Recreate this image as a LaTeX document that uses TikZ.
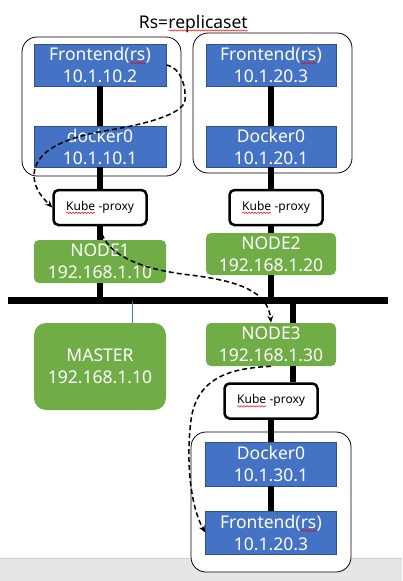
\documentclass[tikz,border=0pt]{standalone}
\usepackage{fontspec}
\setmainfont{Noto Sans}
\usetikzlibrary{arrows.meta,decorations.pathmorphing}
\definecolor{podblue}{HTML}{4472C4}
\definecolor{podedge}{HTML}{2F528F}
\definecolor{hostgreen}{HTML}{70AD47}
\definecolor{bargray}{HTML}{E6E6E6}
\newcommand{\wavy}[1]{\tikz[baseline=(w.base),x=1pt,y=1pt]{\node[inner sep=0pt,outer sep=0pt,minimum size=0pt] (w) {#1};
  \draw[red,line width=0.5pt,sharp corners,decorate,decoration={snake,amplitude=0.7pt,segment length=3pt}]
    ([yshift=-2.5pt]w.base west) -- ([yshift=-2.5pt]w.base east);}}

\begin{document}
\begin{tikzpicture}[x=1pt,y=-1pt,
  podbox/.style={rectangle,draw=podedge,line width=0.7pt,fill=podblue,text=white,inner sep=0pt,
    minimum width=132pt,minimum height=42pt,align=center,font=\fontsize{17.5}{22}\selectfont},
  hostbox/.style={podbox,draw=none,fill=hostgreen,rounded corners=5pt},
  proxybox/.style={rectangle,draw,line width=2.5pt,rounded corners=5pt,fill=white,inner sep=0pt,
    minimum width=93pt,minimum height=35pt,font=\fontsize{12}{14}\selectfont},
  groupbox/.style={rectangle,draw,line width=0.8pt,rounded corners=15pt,fill=white,inner sep=0pt},
  wire/.style={line width=6pt},
  flow/.style={line width=1.5pt,dash pattern=on 5pt off 3pt,-{Stealth[length=7pt,width=6pt]}}]
\useasboundingbox (0,0) rectangle (402,581);
\fill[bargray] (0,558) rectangle (402,581);
\draw[black!20] (0,558) -- (402,558);
% pod groups
\node at (101.5,106.5) [groupbox,minimum width=159pt,minimum height=139pt] (g1) {};
\node at (272.5,103) [groupbox,minimum width=159pt,minimum height=140pt] (g2) {};
\node at (271,502) [groupbox,minimum width=160pt,minimum height=140pt] (g3) {};
\node at (193.5,28) [anchor=base,font=\fontsize{17.5}{22}\selectfont] (title) {Rs=\wavy{replicaset}};
% node 1
\node at (100,65) [podbox] (fe1) {Frontend(\wavy{rs})\\10.1.10.2};
\node at (100,146.5) [podbox,minimum height=41pt] (dk1) {docker0\\10.1.10.1};
\node at (100,207.5) [proxybox] (kp1) {\wavy{Kube} -proxy};
\node at (100,261.5) [hostbox,minimum height=43pt] (n1) {NODE1\\192.168.1.10};
% node 2
\node at (271,65) [podbox,minimum width=130pt] (fe2) {Frontend(\wavy{rs})\\10.1.20.3};
\node at (271,146.5) [podbox,minimum width=130pt,minimum height=41pt] (dk2) {Docker0\\10.1.20.1};
\node at (276,207.5) [proxybox] (kp2) {\wavy{Kube} -proxy};
\node at (271,254) [hostbox,minimum width=130pt] (n2) {NODE2\\192.168.1.20};
% master, node 3
\node at (100,366.5) [hostbox,minimum height=87pt,rounded corners=12pt] (master) {MASTER\\192.168.1.10};
\node at (271,344.5) [hostbox,minimum width=130pt,minimum height=43pt] (n3) {NODE3\\192.168.1.30};
\node at (271,401) [proxybox] (kp3) {\wavy{Kube} -proxy};
\node at (271,464) [podbox,minimum width=131pt,minimum height=44pt] (dk3) {Docker0\\10.1.30.1};
\node at (271,532.5) [podbox,minimum width=131pt,minimum height=43pt] (fe3) {Frontend(\wavy{rs})\\10.1.20.3};
% bus
\coordinate (busL) at (8,300.5);
\coordinate (busR) at (388,300.5);
\coordinate (tap3) at (293,300.5);
\coordinate (tapm) at (132,300.5);
\draw[wire] (fe1) -- (dk1);
\draw[wire] (dk1) -- (kp1);
\draw[wire] (kp1) -- (n1);
\draw[wire] (n1.south) -- (n1.south |- busL);
\draw[wire] (fe2) -- (dk2);
\draw[wire] (dk2.south) -- (dk2.south |- kp2.north);
\draw[wire] (kp2.south -| n2.north) -- (n2.north);
\draw[wire] (n2.south) -- (n2.south |- busL);
\draw[wire] (tap3) -- (tap3 |- n3.north);
\draw[wire] (n3.south -| tap3) -- (kp3.north -| tap3);
\draw[wire] (kp3) -- (dk3);
\draw[wire] (dk3) -- (fe3);
\draw[wire,line width=6.5pt] (busL) -- (busR);
\draw[podblue,line width=0.8pt] (tapm) -- (tapm |- master.north);
% traffic
\draw[flow] (fe1.east) .. controls (182,68) and (186,88) .. (185,100)
  .. controls (184,115) and (140,125) .. (110,130)
  .. controls (80,135) and (35,145) .. (34,175)
  .. controls (34,190) and (44,199) .. (kp1.west);
\draw[flow] (kp1.south) .. controls (103,250) and (130,268) .. (190,275)
  .. controls (240,281) and (268,292) .. (n3.north);
\draw[flow] (n3.south) .. controls (235,368) and (197,375) .. (191,420)
  .. controls (186,460) and (190,505) .. (fe3.west);
\end{tikzpicture}
\end{document}
